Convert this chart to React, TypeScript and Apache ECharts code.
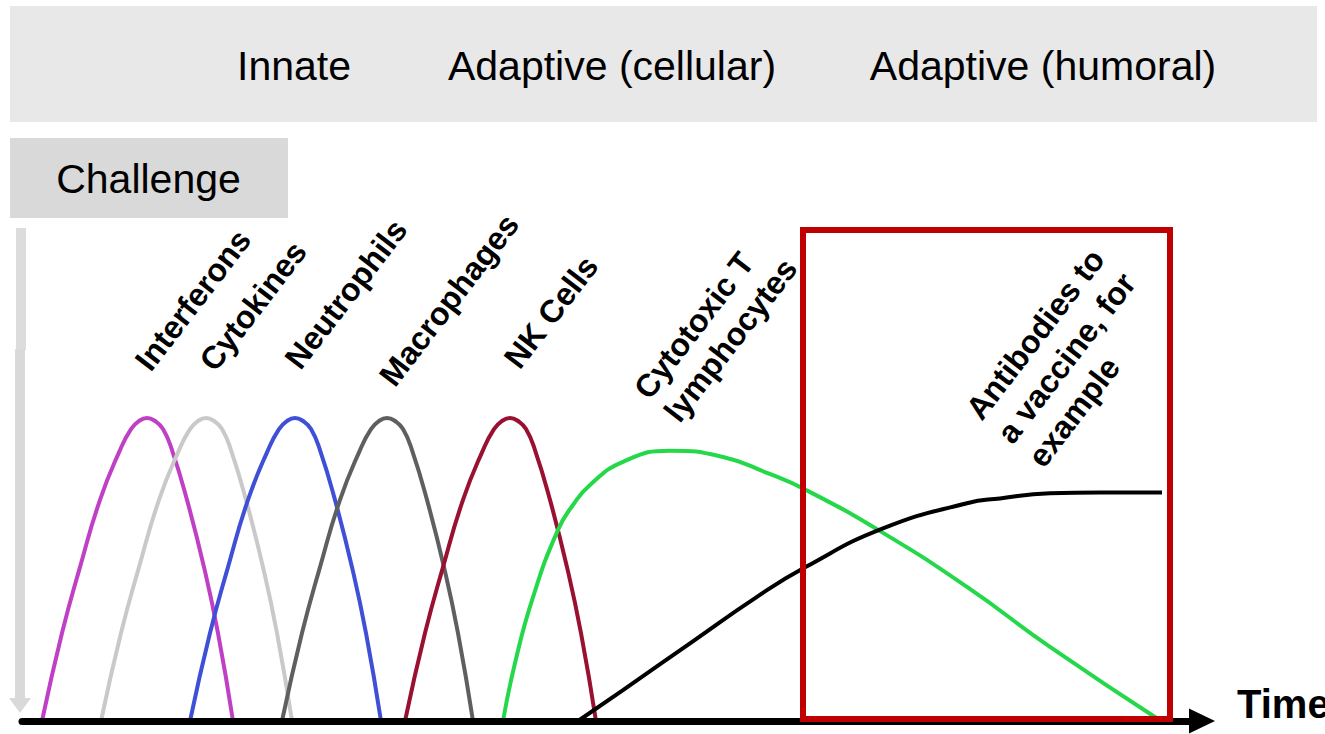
import React, { useEffect, useRef } from "react";
import * as echarts from "echarts";

// Response level shared by the innate curves (peak at 101)
const innateLevels = [0, 29.3, 51.3, 73.7, 90.3, 97.3, 100, 101, 100, 97.3, 90.3, 73.7, 51.3, 29.3, 0];

// Time points for each innate response
const interferonTimes = [2.0, 4.0, 5.8, 7.8, 9.8, 10.9, 11.7, 12.5, 13.3, 14.1, 15.0, 16.5, 18.2, 19.6, 21.1];
const cytokineTimes = [7.9, 9.9, 11.7, 13.7, 15.7, 16.8, 17.6, 18.4, 19.2, 20.0, 20.9, 22.4, 24.1, 25.5, 27.0];
const neutrophilTimes = [16.8, 18.8, 20.6, 22.6, 24.6, 25.7, 26.5, 27.3, 28.1, 28.9, 29.8, 31.3, 33.0, 34.4, 35.9];
const macrophageTimes = [26.0, 28.0, 29.8, 31.8, 33.8, 34.9, 35.7, 36.5, 37.3, 38.1, 39.0, 40.5, 42.2, 43.6, 45.1];
const nkCellTimes = [38.3, 40.3, 42.1, 44.1, 46.1, 47.2, 48.0, 48.8, 49.6, 50.4, 51.3, 52.8, 54.5, 55.9, 57.4];

// Cellular adaptive response
const ctlTimes = [48.1, 49.3, 51.1, 53.6, 55.1, 56.8, 60.1, 64.8, 70.1, 74.5, 78.4, 86.1, 94.5, 102.8, 113.9];
const ctlLevels = [0, 19.3, 41.3, 63.7, 72.0, 78.7, 86.4, 90.1, 88.0, 82.7, 77.0, 62.7, 44.7, 24.7, 0];

// Humoral adaptive response
const antibodyTimes = [55.6, 60.1, 66.8, 73.5, 78.4, 86.1, 94.5, 97.8, 102.8, 107.8, 114.0];
const antibodyLevels = [0, 10.3, 25.9, 41.4, 51.4, 64.2, 72.6, 74.2, 75.9, 76.2, 76.2];

const phaseLabels = ["Innate", "Adaptive (cellular)", "Adaptive (humoral)"];
const innateNames = ["Interferons", "Cytokines", "Neutrophils", "Macrophages", "NK Cells"];
const innateColors = ["#bf40c4", "#c9c9c9", "#3f4fd6", "#5f5f5f", "#9a1030"];
const innateTimes = [interferonTimes, cytokineTimes, neutrophilTimes, macrophageTimes, nkCellTimes];

const FONT = "'Liberation Sans', Arial, Helvetica, sans-serif";
const ROT = (52.5 * Math.PI) / 180;

const zip = (xs: number[], ys: number[]) => xs.map((x, i) => [x, ys[i]]);

export default function App() {
  const ref = useRef<HTMLDivElement>(null);

  useEffect(() => {
    if (!ref.current) return;
    const chart = echarts.init(ref.current, null, { renderer: "svg" });

    const curve = (name: string, data: number[][], color: string) => ({
      name,
      type: "line",
      data,
      smooth: true,
      showSymbol: false,
      clip: false,
      lineStyle: { color, width: 4 },
      z: 2,
    });

    const innateSeries = innateNames.map((n, i) =>
      curve(n, zip(innateTimes[i], innateLevels), innateColors[i])
    );

    const labelCenters = [
      [193, 300],
      [253, 306],
      [346, 294],
      [449, 300],
      [551, 312],
    ];

    const labelStyle = {
      fontSize: 32,
      fontWeight: "bold",
      fontFamily: FONT,
      fill: "#000",
    };

    chart.setOption({
      animation: false,
      grid: { left: 22, right: 123, top: 391, bottom: 13 },
      xAxis: {
        type: "value",
        min: 0,
        max: 118,
        z: 5,
        axisLine: {
          show: true,
          lineStyle: { color: "#000", width: 7 },
          symbol: ["none", "triangle"],
          symbolSize: [25, 26],
        },
        axisTick: { show: false },
        axisLabel: { show: false },
        splitLine: { show: false },
      },
      yAxis: { type: "value", min: 0, max: 110, show: false },
      series: [
        ...innateSeries,
        curve("Cytotoxic T lymphocytes", zip(ctlTimes, ctlLevels), "#24d84a"),
        curve("Antibodies", zip(antibodyTimes, antibodyLevels), "#000000"),
      ],
      graphic: [
        // phase banner
        { type: "rect", shape: { x: 10, y: 6, width: 1307, height: 116 }, style: { fill: "#e8e8e8" }, z: 1 },
        ...phaseLabels.map((t, i) => ({
          type: "text",
          x: [294, 612, 1043][i],
          y: 66,
          z: 2,
          style: { text: t, fontSize: 41, fontFamily: FONT, fill: "#000", align: "center", verticalAlign: "middle" },
        })),
        // challenge box
        { type: "rect", shape: { x: 10, y: 138, width: 278, height: 80 }, style: { fill: "#d9d9d9" }, z: 1 },
        {
          type: "text",
          x: 148.5,
          y: 179,
          z: 2,
          style: { text: "Challenge", fontSize: 41, fontFamily: FONT, fill: "#000", align: "center", verticalAlign: "middle" },
        },
        // downward challenge arrow
        { type: "rect", shape: { x: 16, y: 228, width: 10, height: 122 }, style: { fill: "#dcdcdc" }, z: 1 },
        { type: "rect", shape: { x: 15, y: 349, width: 10, height: 352 }, style: { fill: "#d9d9d9" }, z: 1 },
        { type: "polygon", shape: { points: [[9, 698], [31, 698], [20, 713]] }, style: { fill: "#d9d9d9" }, z: 1 },
        // highlighted humoral region
        {
          type: "rect",
          shape: { x: 803, y: 230, width: 367, height: 489 },
          style: { fill: "none", stroke: "#c00000", lineWidth: 6 },
          z: 20,
        },
        // curve labels
        ...innateNames.map((n, i) => ({
          type: "text",
          x: labelCenters[i][0],
          y: labelCenters[i][1],
          rotation: ROT,
          z: 10,
          style: { ...labelStyle, text: n, align: "center", verticalAlign: "middle" },
        })),
        {
          type: "text",
          x: 656,
          y: 406,
          rotation: ROT,
          z: 10,
          style: { ...labelStyle, text: "Cytotoxic T\nlymphocytes", lineHeight: 38, align: "left", verticalAlign: "middle" },
        },
        {
          type: "text",
          x: 1004,
          y: 439,
          rotation: ROT,
          z: 10,
          style: {
            ...labelStyle,
            text: "Antibodies to\na vaccine, for\nexample",
            lineHeight: 39,
            align: "left",
            verticalAlign: "middle",
          },
        },
        // axis title
        {
          type: "text",
          x: 1237,
          y: 704,
          z: 10,
          style: { text: "Time", fontSize: 40, fontWeight: "bold", fontFamily: FONT, fill: "#000", align: "left", verticalAlign: "middle" },
        },
      ],
    });

    return () => chart.dispose();
  }, []);

  return (
    <div
      ref={ref}
      style={{ position: "fixed", left: 0, top: 0, width: 1325, height: 734, background: "#fff" }}
    />
  );
}
